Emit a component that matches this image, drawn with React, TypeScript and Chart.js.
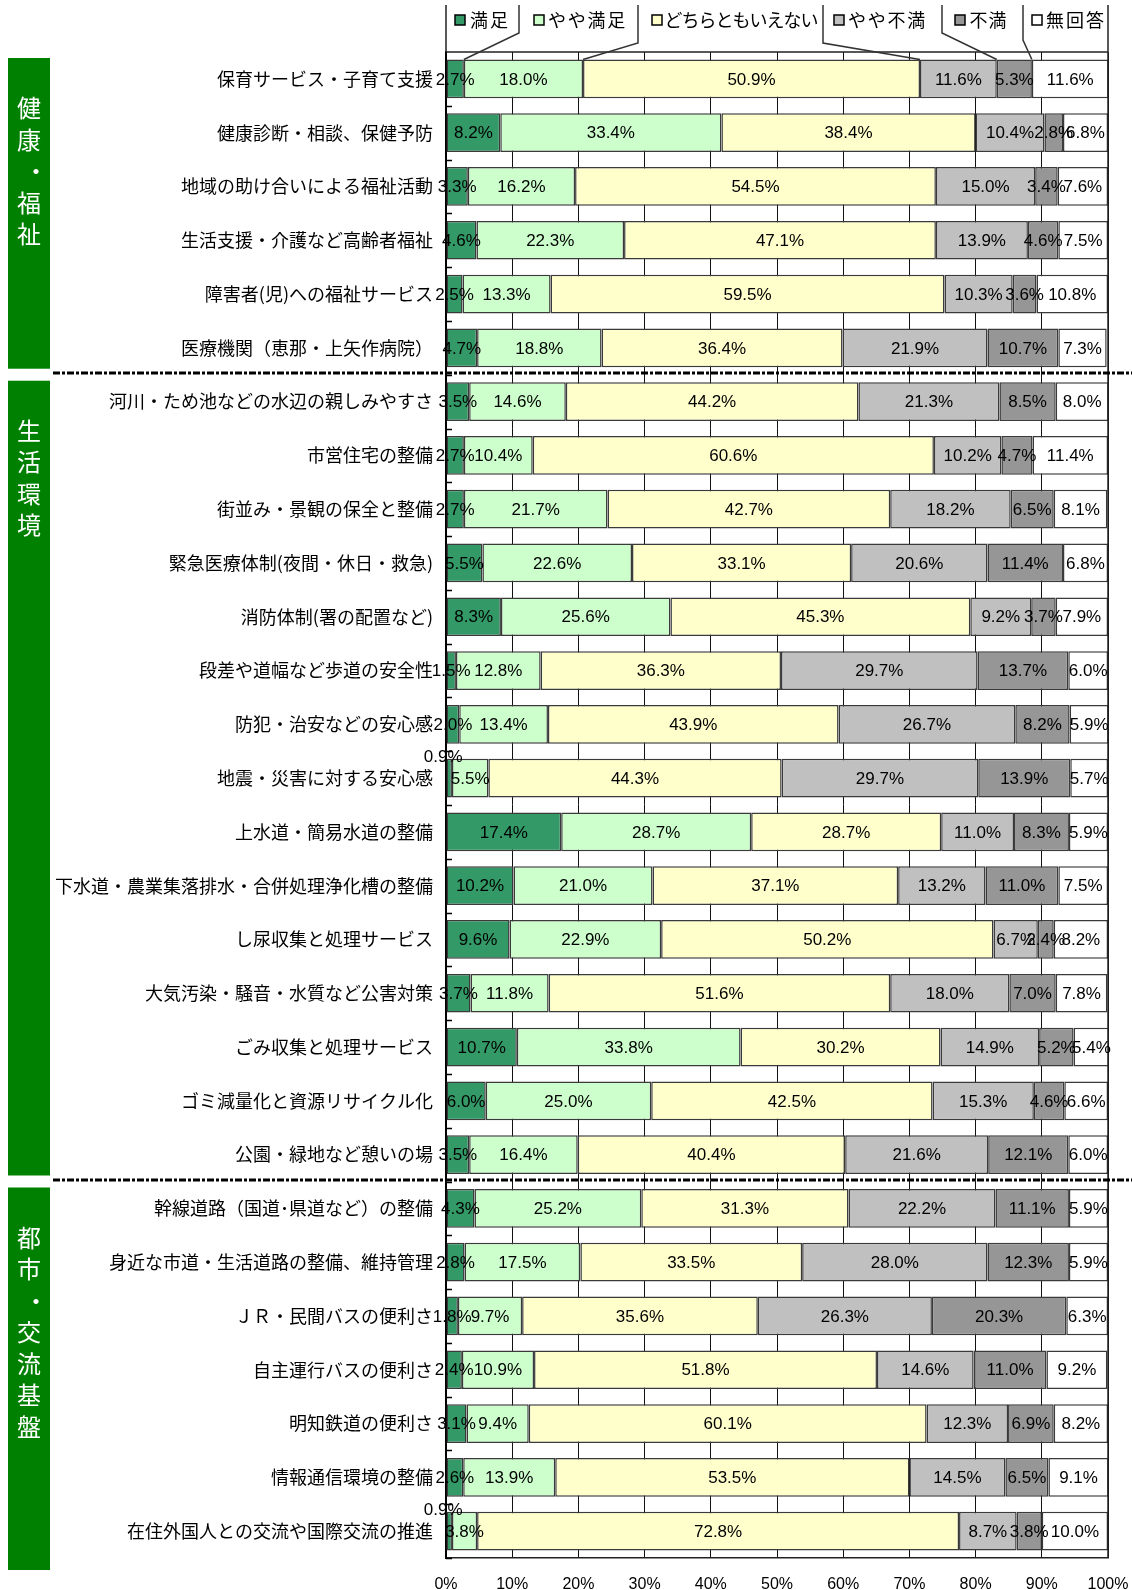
import React, { useEffect, useRef } from 'react';
import { Chart, registerables } from 'chart.js';

Chart.register(...registerables);

const categories = [
  '保育サービス・子育て支援',
  '健康診断・相談、保健予防',
  '地域の助け合いによる福祉活動',
  '生活支援・介護など高齢者福祉',
  '障害者(児)への福祉サービス',
  '医療機関（恵那・上矢作病院）',
  '河川・ため池などの水辺の親しみやすさ',
  '市営住宅の整備',
  '街並み・景観の保全と整備',
  '緊急医療体制(夜間・休日・救急)',
  '消防体制(署の配置など)',
  '段差や道幅など歩道の安全性',
  '防犯・治安などの安心感',
  '地震・災害に対する安心感',
  '上水道・簡易水道の整備',
  '下水道・農業集落排水・合併処理浄化槽の整備',
  'し尿収集と処理サービス',
  '大気汚染・騒音・水質など公害対策',
  'ごみ収集と処理サービス',
  'ゴミ減量化と資源リサイクル化',
  '公園・緑地など憩いの場',
  '幹線道路（国道･県道など）の整備',
  '身近な市道・生活道路の整備、維持管理',
  'ＪＲ・民間バスの便利さ',
  '自主運行バスの便利さ',
  '明知鉄道の便利さ',
  '情報通信環境の整備',
  '在住外国人との交流や国際交流の推進',
];

const seriesNames = ['満足', 'やや満足', 'どちらともいえない', 'やや不満', '不満', '無回答'];

const manzoku = [2.7, 8.2, 3.3, 4.6, 2.5, 4.7, 3.5, 2.7, 2.7, 5.5, 8.3, 1.5, 2.0, 0.9, 17.4, 10.2, 9.6, 3.7, 10.7, 6.0, 3.5, 4.3, 2.8, 1.8, 2.4, 3.1, 2.6, 0.9];
const yayaManzoku = [18.0, 33.4, 16.2, 22.3, 13.3, 18.8, 14.6, 10.4, 21.7, 22.6, 25.6, 12.8, 13.4, 5.5, 28.7, 21.0, 22.9, 11.8, 33.8, 25.0, 16.4, 25.2, 17.5, 9.7, 10.9, 9.4, 13.9, 3.8];
const dochiramo = [50.9, 38.4, 54.5, 47.1, 59.5, 36.4, 44.2, 60.6, 42.7, 33.1, 45.3, 36.3, 43.9, 44.3, 28.7, 37.1, 50.2, 51.6, 30.2, 42.5, 40.4, 31.3, 33.5, 35.6, 51.8, 60.1, 53.5, 72.8];
const yayaFuman = [11.6, 10.4, 15.0, 13.9, 10.3, 21.9, 21.3, 10.2, 18.2, 20.6, 9.2, 29.7, 26.7, 29.7, 11.0, 13.2, 6.7, 18.0, 14.9, 15.3, 21.6, 22.2, 28.0, 26.3, 14.6, 12.3, 14.5, 8.7];
const fuman = [5.3, 2.8, 3.4, 4.6, 3.6, 10.7, 8.5, 4.7, 6.5, 11.4, 3.7, 13.7, 8.2, 13.9, 8.3, 11.0, 2.4, 7.0, 5.2, 4.6, 12.1, 11.1, 12.3, 20.3, 11.0, 6.9, 6.5, 3.8];
const mukaito = [11.6, 6.8, 7.6, 7.5, 10.8, 7.3, 8.0, 11.4, 8.1, 6.8, 7.9, 6.0, 5.9, 5.7, 5.9, 7.5, 8.2, 7.8, 5.4, 6.6, 6.0, 5.9, 5.9, 6.3, 9.2, 8.2, 9.1, 10.0];

const tickLabels = ['0%', '10%', '20%', '30%', '40%', '50%', '60%', '70%', '80%', '90%', '100%'];

const groupNames = ['健康・福祉', '生活環境', '都市・交流基盤'];
const groupStarts = [0, 6, 21];
const groupEnds = [6, 21, 28];

const seriesColors = ['#339966', '#CCFFCC', '#FFFFCC', '#C0C0C0', '#969696', '#FFFFFF'];

// legend layout (pixels)
const legendBoxX = [455, 534, 652, 834, 955, 1032];
const legendTextX = [469, 547, 665, 847, 969, 1045];
const legendTextW = [40, 79, 153, 79, 38, 60];
const legendSepX = [519, 638, 823, 942, 1023];
const legendSepBend = [33, 43, 43, 33, 40];

const JP = "'Noto Sans CJK JP', 'Noto Sans', sans-serif";
const NUM = "'Liberation Sans', Arial, sans-serif";

const decorPlugin = {
  id: 'decor',
  afterDraw(chart: any) {
    const { ctx, chartArea } = chart;
    const xs = chart.scales.x;
    const ys = chart.scales.y;
    const boundary = (k: number) => ys.getPixelForValue(k - 0.5);

    ctx.save();
    // plot frame top & right line
    ctx.strokeStyle = '#222';
    ctx.lineWidth = 1.5;
    ctx.beginPath();
    ctx.moveTo(chartArea.left, chartArea.top);
    ctx.lineTo(chartArea.right, chartArea.top);
    ctx.moveTo(chartArea.right, 5);
    ctx.lineTo(chartArea.right, chartArea.bottom);
    ctx.moveTo(chartArea.left, 5);
    ctx.lineTo(chartArea.left, chartArea.top);
    ctx.stroke();

    // inner small ticks at category boundaries
    ctx.lineWidth = 1.5;
    ctx.strokeStyle = '#000';
    ctx.beginPath();
    for (let k = 1; k < categories.length + 1; k++) {
      const y = Math.round(boundary(k)) + 0.5;
      ctx.moveTo(chartArea.left, y);
      ctx.lineTo(chartArea.left + 6, y);
    }
    ctx.stroke();

    // value labels
    ctx.font = `17px ${NUM}`;
    ctx.fillStyle = '#000';
    ctx.textAlign = 'center';
    ctx.textBaseline = 'middle';
    chart.data.datasets.forEach((ds: any, di: number) => {
      const meta = chart.getDatasetMeta(di);
      meta.data.forEach((el: any, i: number) => {
        const v = ds.data[i];
        const txt = v.toFixed(1) + '%';
        const cx = (el.x + el.base) / 2;
        if (v < 1) {
          ctx.fillText(txt, cx - 6, el.y - el.height / 2 - 1);
        } else {
          ctx.fillText(txt, cx, el.y + 1);
        }
      });
    });

    // group boxes
    for (let g = 0; g < groupNames.length; g++) {
      const top = boundary(groupStarts[g]) + 6;
      const bottom = g === groupNames.length - 1 ? chartArea.bottom + 12 : boundary(groupEnds[g]) - 6;
      ctx.fillStyle = '#008000';
      ctx.fillRect(8, top, 42, bottom - top);
      ctx.fillStyle = '#FFFFFF';
      ctx.font = `24px ${JP}`;
      ctx.textAlign = 'center';
      ctx.textBaseline = 'middle';
      const chars = Array.from(groupNames[g]);
      chars.forEach((c, i) => {
        const y = top + 50 + i * 31.5;
        if (c === '・') ctx.fillText(c, 36, y);
        else ctx.fillText(c, 29, y);
      });
    }

    // dashed separators
    ctx.strokeStyle = '#000';
    ctx.lineWidth = 3;
    ctx.setLineDash([7, 2, 3, 2]);
    for (let g = 1; g < groupNames.length; g++) {
      const y = Math.round(boundary(groupStarts[g])) - 2;
      ctx.beginPath();
      ctx.moveTo(53, y);
      ctx.lineTo(1132, y);
      ctx.stroke();
    }
    ctx.setLineDash([]);

    // legend
    ctx.font = `18px ${JP}`;
    ctx.textAlign = 'center';
    ctx.textBaseline = 'middle';
    for (let s = 0; s < seriesNames.length; s++) {
      ctx.fillStyle = seriesColors[s];
      ctx.fillRect(legendBoxX[s], 15, 10, 10);
      ctx.strokeStyle = '#000';
      ctx.lineWidth = 1.5;
      ctx.strokeRect(legendBoxX[s], 15, 10, 10);
      ctx.fillStyle = '#000';
      const chars = Array.from(seriesNames[s]);
      const pitch = legendTextW[s] / chars.length;
      chars.forEach((c, i) => {
        ctx.fillText(c, legendTextX[s] + pitch * (i + 0.5), 20);
      });
    }
    // legend connectors
    const firstBarTop = (() => {
      const el = chart.getDatasetMeta(0).data[0];
      return el.y - el.height / 2;
    })();
    ctx.strokeStyle = '#333';
    ctx.lineWidth = 1.5;
    let cum = 0;
    for (let s = 0; s < legendSepX.length; s++) {
      cum += (chart.data.datasets[s].data[0] as number);
      const bx = xs.getPixelForValue(cum);
      ctx.beginPath();
      ctx.moveTo(legendSepX[s], 5);
      ctx.lineTo(legendSepX[s], legendSepBend[s]);
      ctx.lineTo(bx, firstBarTop);
      ctx.stroke();
    }
    ctx.restore();
  },
};

export default function App() {
  const ref = useRef<HTMLCanvasElement>(null);
  useEffect(() => {
    if (!ref.current) return;
    const seriesData = [manzoku, yayaManzoku, dochiramo, yayaFuman, fuman, mukaito];
    const chart = new Chart(ref.current, {
      type: 'bar',
      data: {
        labels: categories,
        datasets: seriesNames.map((n, i) => ({
          label: n,
          data: seriesData[i],
          backgroundColor: seriesColors[i],
          borderColor: '#3a3a3a',
          borderWidth: 1.5,
          borderSkipped: false,
          categoryPercentage: 1,
          barPercentage: 0.72,
        })),
      },
      options: {
        indexAxis: 'y',
        responsive: false,
        animation: false,
        devicePixelRatio: 1,
        layout: { padding: { top: 52, right: 24, left: 0, bottom: 0 } },
        plugins: { legend: { display: false }, tooltip: { enabled: false } },
        scales: {
          x: {
            stacked: true,
            min: 0,
            max: 100,
            afterFit: (s: any) => { s.height = 32; s.paddingRight = 0; s.paddingLeft = 0; },
            grid: { color: '#111', lineWidth: 1, drawTicks: false },
            border: { color: '#222', width: 1.5 },
            ticks: {
              stepSize: 10,
              padding: 17,
              color: '#000',
              font: { family: NUM, size: 16 },
              callback: (_v: any, i: number) => tickLabels[i],
            },
          },
          y: {
            stacked: true,
            afterFit: (s: any) => { s.width = 446; s.paddingTop = 0; s.paddingBottom = 0; },
            grid: { display: true, drawOnChartArea: false, drawTicks: false },
            border: { color: '#000', width: 2 },
            ticks: {
              padding: 13,
              color: '#000',
              autoSkip: false,
              font: { family: JP, size: 18 },
            },
          },
        },
      },
      plugins: [decorPlugin],
    });
    return () => chart.destroy();
  }, []);
  return (
    <div style={{ position: 'absolute', left: 0, top: 0, width: 1132, height: 1590, background: '#fff' }}>
      <canvas ref={ref} width={1132} height={1590} style={{ width: 1132, height: 1590, display: 'block' }} />
    </div>
  );
}
